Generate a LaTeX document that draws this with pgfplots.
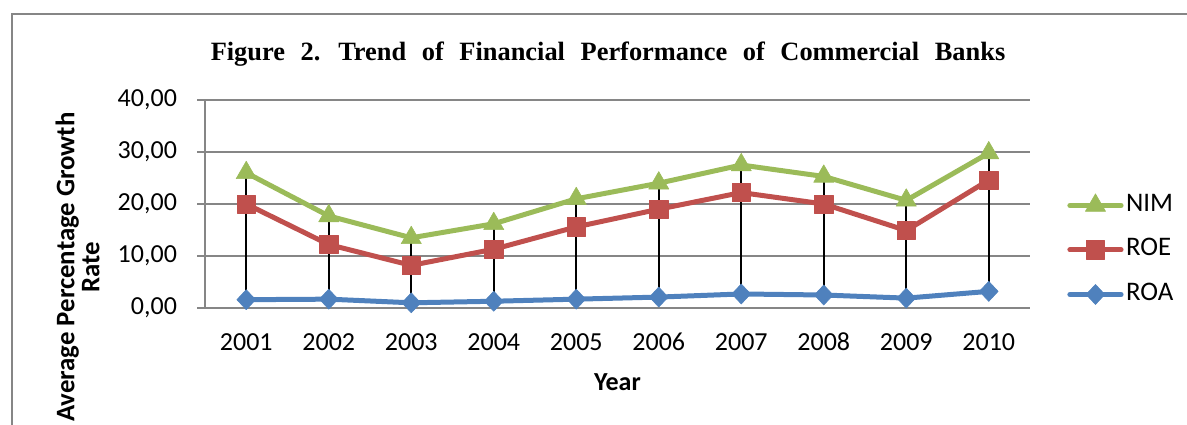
\documentclass[border=0pt]{standalone}
\usepackage{fontspec}
\setmainfont{Carlito}
\newfontfamily\titlefont{Liberation Serif}
\usepackage{pgfplots}
\pgfplotsset{compat=1.18}
\definecolor{nimc}{RGB}{155,187,89}
\definecolor{roec}{RGB}{192,80,77}
\definecolor{roac}{RGB}{79,129,189}
\definecolor{gridc}{RGB}{134,134,134}
\begin{document}
\begin{tikzpicture}
\useasboundingbox (0pt,0pt) rectangle (593.5pt,212pt);
\draw[gridc, line width=0.75pt] (6pt,-5pt) -- (6pt,205pt) -- (600pt,205pt);
\node[anchor=base, inner sep=0pt] at (304pt,182pt) {\titlefont\bfseries\fontsize{13.2}{15}\selectfont\spaceskip=7.8pt plus 1pt Figure 2. Trend of Financial Performance of Commercial Banks};
\begin{axis}[
  at={(102.5pt,58pt)}, anchor=south west, scale only axis,
  width=412.5pt, height=104pt,
  xmin=0.5, xmax=10.5, ymin=0, ymax=40,
  xtick={1,2,3,4,5,6,7,8,9,10},
  xticklabels={2001,2002,2003,2004,2005,2006,2007,2008,2009,2010},
  ytick={0,10,20,30,40},
  ymajorgrids, grid style={gridc, line width=0.75pt},
  axis x line*=bottom, axis y line*=left,
  axis line style={gridc, line width=0.75pt, -},
  tick align=outside, major tick length=4pt,
  x tick style={draw=none},
  y tick style={gridc, line width=0.75pt},
  ticklabel style={font=\fontsize{13}{15}\selectfont},
  xticklabel style={text height=9pt, text depth=0pt, yshift=-4.5pt},
  yticklabel style={xshift=-6.5pt, /pgf/number format/.cd, fixed, fixed zerofill, precision=2, use comma, assume math mode=true},
  xlabel={Year},
  xlabel style={font=\bfseries\fontsize{13}{15}\selectfont, at={(axis description cs:0.5,0)}, anchor=base, yshift=-41pt},
  ylabel={Average Percentage Growth\\Rate},
  ylabel style={font=\bfseries\fontsize{13.4}{12.5}\selectfont, align=center, at={(axis description cs:-0.1545,0.197)}, anchor=center},
  legend cell align=left,
  legend style={draw=none, fill=none, at={(axis description cs:1.0448,0.279)}, anchor=west, inner sep=0pt,
    font=\fontsize{13.4}{15}\selectfont, row sep=7.75pt,
    nodes={inner sep=1.25pt, text height=9pt, text depth=3pt}},
  legend image code/.code={\draw[mark repeat=2, mark phase=2, line cap=round] plot coordinates {(1.2pt,0pt) (14pt,0pt) (26.8pt,0pt)};},
  every axis plot/.append style={line width=2.5pt, line join=round},
]
\addplot[nimc, mark=triangle*, mark size=5.8pt, mark options={solid, line width=0.3pt, fill=nimc, draw=nimc}]
  coordinates {(1,26.0) (2,17.7) (3,13.5) (4,16.2) (5,21.0) (6,24.0) (7,27.5) (8,25.3) (9,20.7) (10,29.8)};
\addlegendentry{NIM}
\addplot[roec, mark=square*, mark size=4.6pt, mark options={solid, line width=0.3pt, fill=roec, draw=roec}]
  coordinates {(1,20.0) (2,12.2) (3,8.2) (4,11.3) (5,15.6) (6,19.0) (7,22.2) (8,20.0) (9,14.9) (10,24.6)};
\addlegendentry{ROE}
\addplot[roac, mark=diamond*, mark size=5pt, mark options={solid, line width=0.3pt, fill=roac, draw=roac, xscale=1.25}]
  coordinates {(1,1.6) (2,1.7) (3,1.0) (4,1.3) (5,1.7) (6,2.1) (7,2.7) (8,2.5) (9,1.9) (10,3.2)};
\addlegendentry{ROA}
\addplot[black, line width=0.8pt, forget plot, mark=none, unbounded coords=jump]
  coordinates {(1,1.6) (1,26.0) (1,nan) (2,1.7) (2,17.7) (2,nan) (3,1.0) (3,13.5) (3,nan)
   (4,1.3) (4,16.2) (4,nan) (5,1.7) (5,21.0) (5,nan) (6,2.1) (6,24.0) (6,nan)
   (7,2.7) (7,27.5) (7,nan) (8,2.5) (8,25.3) (8,nan) (9,1.9) (9,20.7) (9,nan) (10,3.2) (10,29.8)};
\end{axis}
\end{tikzpicture}
\end{document}
